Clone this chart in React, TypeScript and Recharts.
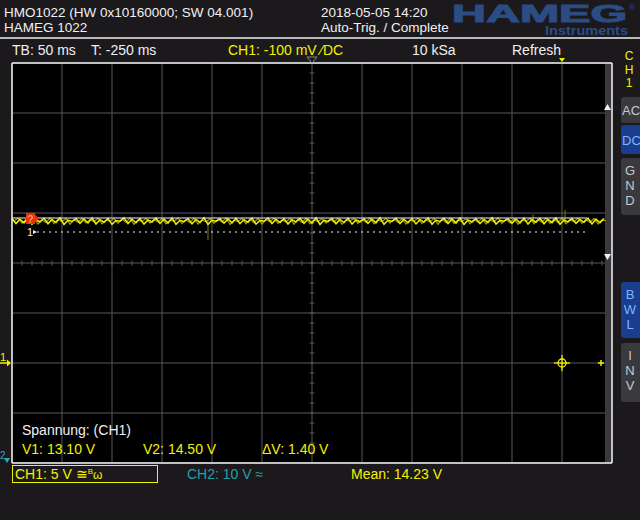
import React from "react";
import { LineChart, Line, XAxis, YAxis, CartesianGrid, ReferenceLine, ReferenceArea, ReferenceDot } from "recharts";

// time axis in ms (TB 50 ms/div, trigger at 0), voltage in V (5 V/div)
const xTicks = [-550, -500, -450, -400, -350, -300, -250, -200, -150, -100, -50, 0, 50];
const yTicks = [-10, -5, 0, 5, 10, 15, 20, 25, 30];

// CH1 samples (one every 4 ms from -550 ms)
const ch1Volts = [
  14.45, 13.95, 14.38, 14.02, 14.5, 13.88, 14.3, 14.12, 14.47, 13.92,
  14.35, 14.05, 14.52, 13.85, 14.28, 14.15, 14.44, 13.97, 14.4, 14.0,
  14.49, 13.9, 14.33, 14.08, 14.46, 13.86, 14.25, 14.18, 14.51, 13.94,
  14.37, 14.03, 14.43, 13.89, 14.31, 14.1, 14.48, 13.96, 14.39, 13.99,
  14.5, 13.87, 14.27, 14.14, 14.45, 13.91, 14.36, 14.06, 14.53, 13.84,
  14.29, 14.16, 14.42, 13.98, 14.41, 14.01, 14.47, 13.93, 14.34, 14.07,
  14.49, 13.88, 14.26, 14.17, 14.5, 13.95, 14.38, 14.04, 14.44, 13.9,
  14.32, 14.11, 14.46, 13.97, 14.4, 13.98, 14.52, 13.86, 14.28, 14.13,
  14.45, 13.92, 14.35, 14.05, 14.48, 13.89, 14.3, 14.12, 14.43, 13.96,
  14.39, 14.02, 14.51, 13.87, 14.27, 14.15, 14.47, 13.94, 14.37, 14.03,
  14.44, 13.91, 14.33, 14.09, 14.5, 13.88, 14.29, 14.14, 14.46, 13.95,
  14.41, 14.0, 14.49, 13.85, 14.31, 14.1, 14.45, 13.93, 14.36, 14.06,
  14.52, 13.9, 14.26, 14.18, 14.43, 13.97, 14.4, 14.01, 14.48, 13.89,
  14.34, 14.08, 14.47, 13.92, 14.38, 14.04, 14.5, 13.87, 14.3, 14.11,
  14.44, 13.96, 14.35, 14.07, 14.49, 13.91, 14.39, 14.02, 14.46,
];
const trace = ch1Volts.map((v, i) => ({ t: -550 + i * 4, v }));

// dimmer persistence samples between the bright ones (from -548 ms)
const glowVolts = [
  14.2, 14.48, 13.98, 14.35, 14.1, 14.42, 13.9, 14.3, 14.05, 14.5,
  13.95, 14.38, 14.15, 14.45, 13.88, 14.32, 14.08, 14.47, 14.0, 14.36,
  14.12, 14.49, 13.92, 14.28, 14.18, 14.44, 13.96, 14.4, 14.06, 14.51,
  13.86, 14.33, 14.14, 14.46, 13.99, 14.37, 14.09, 14.43, 13.91, 14.29,
  14.17, 14.5, 13.94, 14.34, 14.03, 14.48, 13.89, 14.31, 14.11, 14.45,
  13.97, 14.39, 14.07, 14.52, 13.85, 14.27, 14.16, 14.44, 13.93, 14.41,
  14.02, 14.47, 13.9, 14.35, 14.13, 14.49, 13.96, 14.3, 14.1, 14.46,
  13.88, 14.38, 14.04, 14.5, 13.92, 14.33, 14.15, 14.43, 13.98, 14.4,
  14.08, 14.48, 13.87, 14.28, 14.19, 14.45, 13.95, 14.36, 14.05, 14.51,
  13.91, 14.32, 14.12, 14.47, 13.99, 14.39, 14.06, 14.44, 13.89, 14.3,
  14.16, 14.49, 13.94, 14.35, 14.09, 14.46, 13.86, 14.41, 14.03, 14.5,
  13.97, 14.29, 14.14, 14.45, 13.92, 14.37, 14.07, 14.48, 13.9, 14.33,
  14.11, 14.52, 13.95, 14.4, 14.02, 14.44, 13.88, 14.31, 14.17, 14.47,
  13.93, 14.36, 14.08, 14.5, 13.98, 14.42, 14.04, 14.46, 13.91, 14.34,
  14.13, 14.49, 13.96, 14.38, 14.06, 14.45, 13.89, 14.32, 14.2,
];
const glow = glowVolts.map((v, i) => ({ t: -548 + i * 4, v }));

// afterglow spikes
const glowT = [-354, -29, 3];
const glowLo = [12.3, 14.0, 14.0];
const glowHi = [14.2, 14.85, 15.3];

// cursors
const cursorV1 = 13.1;
const cursorV2 = 14.5;

// minor ticks on the centre cross
const minorT = Array.from({ length: 59 }, (_, i) => -540 + i * 10);
const minorV = Array.from({ length: 39 }, (_, i) => -9 + i);

const FONT = "'Liberation Sans', Arial, sans-serif";
const YEL = "#f2f200";
const WHITE = "#f0f0f0";
const BG = "#1c191d";
const BLUE = "#2b4c85";

function Crosshair(props: any) {
  const { cx, cy } = props;
  return (
    <g stroke={YEL} strokeWidth={1.3} fill="none">
      <circle cx={cx} cy={cy} r={4} />
      <line x1={cx - 8} y1={cy} x2={cx + 8} y2={cy} />
      <line x1={cx} y1={cy - 8} x2={cx} y2={cy + 8} />
    </g>
  );
}

function LevelMark(props: any) {
  const { cx, cy } = props;
  return (
    <g stroke={YEL} strokeWidth={1.5}>
      <line x1={cx - 3} y1={cy} x2={cx + 3} y2={cy} />
      <line x1={cx} y1={cy - 3} x2={cx} y2={cy + 3} />
    </g>
  );
}

function Button({ y, h, label, active }: { y: number; h: number; label: string[]; active?: boolean }) {
  return (
    <g>
      <rect x={621} y={y} width={24} height={h} rx={3} fill={active ? "#1b3d8f" : "#3a393d"} />
      {label.map((s, i) => (
        <text
          key={i}
          x={label.length === 1 ? 622 : 630}
          y={y + (label.length === 1 ? h / 2 + 5 : 17 + i * 15)}
          textAnchor={label.length === 1 ? "start" : "middle"}
          fill={active ? "#79b8f5" : "#c8c8c8"}
          fontSize={13}
          fontFamily={FONT}
        >
          {s}
        </text>
      ))}
    </g>
  );
}

export default function App() {
  return (
    <div style={{ position: "fixed", left: 0, top: 0, width: 640, height: 520, background: BG, overflow: "hidden" }}>
      <LineChart width={640} height={520} data={trace} margin={{ top: 63, right: 28, bottom: 57, left: 12 }}>
        <CartesianGrid stroke="#595959" fill="#000" fillOpacity={1} />
        <XAxis type="number" dataKey="t" domain={[-550, 50]} ticks={xTicks} hide />
        <YAxis type="number" domain={[-10, 30]} ticks={yTicks} hide />
        {minorT.map((t) => (
          <ReferenceLine key={"mt" + t} segment={[{ x: t, y: 9.75 }, { x: t, y: 10.25 }]} stroke="#595959" />
        ))}
        {minorV.map((v) => (
          <ReferenceLine key={"mv" + v} segment={[{ x: -252.5, y: v }, { x: -247.5, y: v }]} stroke="#595959" />
        ))}
        <ReferenceArea x1={43} x2={50} y1={-10} y2={30} fill="#3b393d" fillOpacity={1} stroke="none" />
        {glowT.map((t, i) => (
          <ReferenceLine key={"g" + t} segment={[{ x: t, y: glowLo[i] }, { x: t, y: glowHi[i] }]} stroke="#7d7d12" />
        ))}
        <Line data={glow} dataKey="v" stroke="#9c9c08" strokeWidth={1.2} dot={false} isAnimationActive={false} />
        <Line dataKey="v" stroke={YEL} strokeWidth={1.5} dot={false} isAnimationActive={false} />
        <ReferenceLine segment={[{ x: -550, y: cursorV2 }, { x: 25, y: cursorV2 }]} stroke={WHITE} />
        <ReferenceLine segment={[{ x: -525, y: cursorV1 }, { x: 25, y: cursorV1 }]} stroke={WHITE} strokeDasharray="2 4" />
        <ReferenceDot x={0} y={0} shape={Crosshair} />
        <ReferenceDot x={39} y={0} shape={LevelMark} />
        <ReferenceLine x={-550} stroke={WHITE} strokeWidth={1.5} />
        <ReferenceLine x={50} stroke={WHITE} strokeWidth={1.5} />
        <ReferenceLine y={30} stroke={WHITE} strokeWidth={1.5} />
        <ReferenceLine y={-10} stroke={WHITE} strokeWidth={1.5} />
      </LineChart>

      <svg width={640} height={520} style={{ position: "absolute", left: 0, top: 0, pointerEvents: "none" }} fontFamily={FONT}>
        {/* header */}
        <text x={4} y={17} fontSize={13.5} fill={WHITE}>HMO1022 (HW 0x10160000; SW 04.001)</text>
        <text x={4} y={31.5} fontSize={13.5} fill={WHITE}>HAMEG 1022</text>
        <text x={321} y={17} fontSize={13.5} fill={WHITE}>2018-05-05 14:20</text>
        <text x={321} y={31.5} fontSize={13.5} fill={WHITE}>Auto-Trig. / Complete</text>
        <text x={452} y={22} fontSize={24} fontWeight={900} fill={BLUE} stroke={BLUE} strokeWidth={1} textLength={175} lengthAdjust="spacingAndGlyphs">HAMEG</text>
        <text x={629} y={10} fontSize={8} fill={BLUE}>®</text>
        <text x={545} y={35} fontSize={13} fontWeight={700} fill={BLUE} textLength={83} lengthAdjust="spacingAndGlyphs">Instruments</text>
        <line x1={0} y1={38} x2={640} y2={38} stroke={WHITE} strokeWidth={1.5} />

        {/* status row */}
        <text x={12} y={54.5} fontSize={14} fill={WHITE}>TB: 50 ms</text>
        <text x={91} y={54.5} fontSize={14} fill={WHITE}>T: -250 ms</text>
        <text x={228} y={54.5} fontSize={14} fill={YEL}>CH1: -100 mV ⁄DC</text>
        <text x={412} y={54.5} fontSize={14} fill={WHITE}>10 kSa</text>
        <text x={512} y={54.5} fontSize={14} fill={WHITE}>Refresh</text>
        <polygon points="307,57 317,57 312,63" fill="none" stroke="#8a8a8a" />
        <polygon points="559,58 565,58 562,62" fill={YEL} />

        {/* right panel */}
        <text x={629} y={60} textAnchor="middle" fontSize={12} fill={YEL}>C</text>
        <text x={629} y={74} textAnchor="middle" fontSize={12} fill={YEL}>H</text>
        <text x={629} y={87} textAnchor="middle" fontSize={12} fill={YEL}>1</text>
        <Button y={97} h={26} label={["AC"]} />
        <Button y={125} h={29} label={["DC"]} active />
        <Button y={158} h={57} label={["G", "N", "D"]} />
        <Button y={282} h={56} label={["B", "W", "L"]} active />
        <Button y={343} h={59} label={["I", "N", "V"]} />
        <polygon points="604,110 611,110 607.5,104" fill={WHITE} />
        <polygon points="604,254 611,254 607.5,260" fill={WHITE} />

        {/* markers on the trace */}
        <rect x={26} y={213} width={9} height={11} fill="#e8300c" />
        <text x={27} y={222.5} fontSize={11} fontWeight={700} fill="#ff9a40">?</text>
        <polygon points="35,214.5 39,218.5 35,222.5" fill="#e8300c" />
        <text x={27} y={236} fontSize={11} fill={WHITE}>1</text>
        <polygon points="33,230 37,232 33,234" fill={WHITE} />

        {/* channel ground markers */}
        <text x={0} y={361} fontSize={11} fill={YEL}>1</text>
        <line x1={0} y1={363} x2={8} y2={363} stroke={YEL} strokeWidth={1.5} />
        <polygon points="7,359.5 11,363 7,366.5" fill={YEL} />
        <text x={0} y={459} fontSize={10} fill="#2fa8b8">2</text>
        <polygon points="4,458 10,458 7,463" fill="#2fa8b8" />

        {/* cursor readout */}
        <text x={22} y={435} fontSize={14} fill={WHITE}>Spannung: (CH1)</text>
        <text x={22} y={454} fontSize={14} fill={YEL}>V1: 13.10 V</text>
        <text x={143} y={454} fontSize={14} fill={YEL}>V2: 14.50 V</text>
        <text x={262} y={454} fontSize={14} fill={YEL}>ΔV: 1.40 V</text>

        {/* bottom status */}
        <rect x={12.5} y={465.5} width={145} height={17} fill="none" stroke={YEL} />
        <text x={15} y={479} fontSize={14} fill={YEL}>
          CH1: 5 V ≅<tspan fontSize={8} dy={-5}>B</tspan><tspan fontSize={12} dy={5}>ω</tspan>
        </text>
        <text x={187} y={479} fontSize={14} fill="#22a0a8">CH2: 10 V ≈</text>
        <text x={351} y={479} fontSize={14} fill={YEL}>Mean: 14.23 V</text>
      </svg>
    </div>
  );
}
